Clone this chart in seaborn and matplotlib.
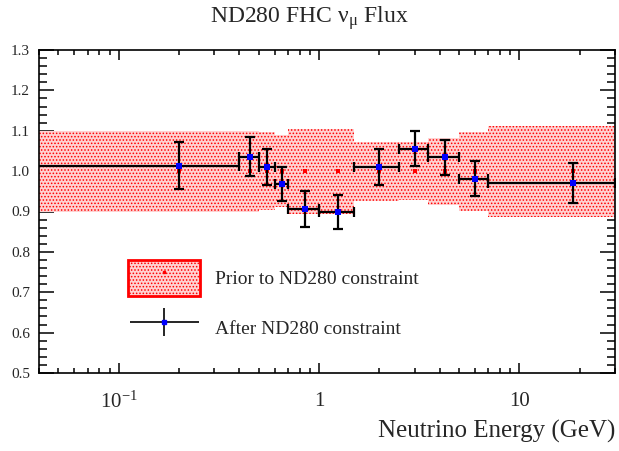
import numpy as np
import pandas as pd
import seaborn as sns
import matplotlib.pyplot as plt
import matplotlib.patches as mpatches
from matplotlib.lines import Line2D
from matplotlib.legend_handler import HandlerErrorbar, HandlerTuple
from matplotlib.ticker import (FixedLocator, FixedFormatter, LogLocator,
                               MultipleLocator, FormatStrFormatter, NullFormatter)

# flux parameter bins (GeV) and values
bin_edges = [0.0, 0.4, 0.5, 0.6, 0.7, 1.0, 1.5, 2.5, 3.5, 5.0, 7.0, 30.0]
prior_val = [1.0, 1.0, 1.0, 1.0, 1.0, 1.0, 1.0, 1.0, 1.0, 1.0, 1.0]
prior_err = [0.100, 0.100, 0.097, 0.090, 0.105, 0.105, 0.073, 0.072, 0.083, 0.098, 0.113]
after_val = [1.013, 1.036, 1.010, 0.967, 0.906, 0.899, 1.010, 1.056, 1.034, 0.981, 0.971]
after_err = [0.058, 0.049, 0.045, 0.042, 0.044, 0.042, 0.044, 0.043, 0.044, 0.043, 0.049]
x_ticks = [0.1, 1, 10]
x_ticklabels = ['10$^{-1}$', '1', '10']

sns.set_theme(style='ticks')
plt.rcParams['font.family'] = ['Liberation Serif', 'DejaVu Serif']
plt.rcParams['mathtext.fontset'] = 'custom'
plt.rcParams['mathtext.rm'] = 'Liberation Serif'
plt.rcParams['mathtext.it'] = 'Liberation Serif:italic'
plt.rcParams['hatch.linewidth'] = 0.7

edges = np.clip(bin_edges, 0.03, None)
centers = [(a + b) / 2 for a, b in zip(bin_edges[:-1], bin_edges[1:])]
df = pd.DataFrame({'center': centers, 'prior': prior_val, 'after': after_val})

fig = plt.figure(figsize=(6.19, 4.51), dpi=100)
ax = fig.add_axes([39 / 619, 1 - 373 / 451, 576 / 619, 323 / 451])

band_fc = '#ffd2d2'
hi = np.array(prior_val) + np.array(prior_err)
lo = np.array(prior_val) - np.array(prior_err)
ax.fill_between(edges, np.append(hi, hi[-1]), np.append(lo, lo[-1]), step='post',
                facecolor=band_fc, edgecolor='red', hatch='.....', linewidth=0, zorder=1)

sns.scatterplot(data=df, x='center', y='prior', marker='s', color='red', s=5,
                linewidth=0, ax=ax, zorder=2, legend=False)

xlo = [c - e for c, e in zip(centers, edges[:-1])]
xhi = [e - c for c, e in zip(centers, edges[1:])]
ax.errorbar(centers, after_val, xerr=[xlo, xhi], yerr=after_err, fmt='none',
            ecolor='black', elinewidth=1.6, capsize=3.5, capthick=1.6, zorder=3)
sns.scatterplot(data=df, x='center', y='after', marker='s', color='blue', s=14,
                linewidth=0, ax=ax, zorder=4, legend=False)

ax.set_xscale('log')
ax.set_xlim(0.04, 30)
ax.set_ylim(0.5, 1.3)
ax.set_xlabel('')
ax.set_ylabel('')

ax.xaxis.set_major_locator(FixedLocator(x_ticks))
ax.xaxis.set_major_formatter(FixedFormatter(x_ticklabels))
ax.xaxis.set_minor_locator(LogLocator(base=10, subs=np.arange(2, 10), numticks=20))
ax.xaxis.set_minor_formatter(NullFormatter())
ax.yaxis.set_major_locator(MultipleLocator(0.1))
ax.yaxis.set_minor_locator(MultipleLocator(0.02))
ax.yaxis.set_major_formatter(FormatStrFormatter('%.1f'))

ax.tick_params(which='both', direction='in', top=True, right=True, color='black', width=1.1)
ax.tick_params(axis='x', which='major', length=7.5, labelsize=15, pad=13.5)
ax.tick_params(axis='x', which='minor', length=3.8)
ax.tick_params(axis='y', which='major', length=11, labelsize=11, pad=6.5)
ax.tick_params(axis='y', which='minor', length=5.5)
for s in ax.spines.values():
    s.set_linewidth(1.2)
    s.set_color('black')

# legend
prior_handle = (mpatches.Patch(facecolor=band_fc, edgecolor='red', hatch='.....', linewidth=2),
                Line2D([], [], marker='s', color='red', ms=2, ls='none'))
after_handle = ax.errorbar([np.nan], [np.nan], xerr=[1], yerr=[1], fmt='s', color='black',
                           mfc='blue', mec='blue', ms=2.5, elinewidth=1.2, capsize=0)
ax.legend([prior_handle, after_handle],
          ['Prior to ND280 constraint', 'After ND280 constraint'],
          handler_map={tuple: HandlerTuple(ndivide=1),
                       after_handle: HandlerErrorbar(xerr_size=1.78, yerr_size=0.72)},
          loc='upper left', bbox_to_anchor=(0.155, 0.35), frameon=False, fontsize=14,
          handlelength=3.7, handleheight=2.47, handletextpad=0.75, labelspacing=0.75,
          borderpad=0, borderaxespad=0)

fig.text(0.5, 1 - 18 / 451, 'ND280 FHC ν$_{\\mathrm{μ}}$ Flux', ha='center', va='center', fontsize=17)
fig.text(615 / 619, 1 - 438 / 451, 'Neutrino Energy (GeV)', ha='right', va='baseline', fontsize=18)

plt.savefig('out.png', dpi=100)
